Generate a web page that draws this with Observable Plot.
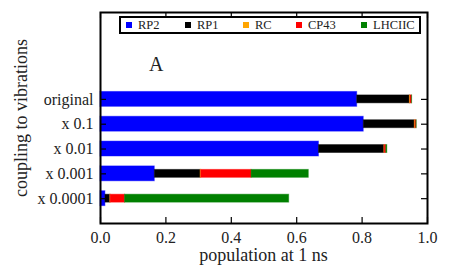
<!DOCTYPE html>
<html><head><meta charset="utf-8">
<script src="https://cdn.jsdelivr.net/npm/d3@7"></script>
<script src="https://cdn.jsdelivr.net/npm/@observablehq/plot@0.6"></script>
<style>
body{margin:0;background:#fff}
#wrap{position:relative;width:449px;height:276px;font-family:"Liberation Serif","Times New Roman",serif}
#wrap svg text{font-family:"Liberation Serif","Times New Roman",serif !important}
#legend{position:absolute;left:119px;top:16px;width:298px;height:14px;border:2px solid #000;background:#fff;font-size:12.5px;line-height:14px;color:#222}
#legend span.item{position:absolute;top:0;white-space:nowrap}
#legend span.sw{display:inline-block;width:6px;height:6px;margin-right:6px;vertical-align:1px}
#tagA{position:absolute;left:149px;top:53px;font-size:20px;color:#222}
#xlab{position:absolute;left:100px;width:327px;top:245px;text-align:center;font-size:18px;color:#222}
#ylab{position:absolute;left:21px;top:118px;font-size:18px;color:#222;white-space:nowrap;transform:translate(-50%,-50%) rotate(-90deg)}
</style>
</head><body><div id="wrap"></div>
<script>
const categories = ["original", "x 0.1", "x 0.01", "x 0.001", "x 0.0001"];
const series = ["RP2", "RP1", "RC", "CP43", "LHCIIC"];
const colors = ["#0000ff", "#000000", "#ffa500", "#ff0000", "#008000"];
const RP2    = [0.785, 0.805, 0.668, 0.166, 0.015];
const RP1    = [0.161, 0.156, 0.200, 0.140, 0.015];
const RC     = [0.002, 0.002, 0.001, 0.002, 0.001];
const CP43   = [0.004, 0.003, 0.005, 0.154, 0.044];
const LHCIIC = [0.001, 0.001, 0.003, 0.175, 0.502];
const xTicks = [0, 0.2, 0.4, 0.6, 0.8, 1.0];
const panelLabel = "A";
const xLabel = "population at 1 ns";
const yLabel = "coupling to vibrations";

const values = [RP2, RP1, RC, CP43, LHCIIC];
const rows = [];
categories.forEach((c, i) => {
  let acc = 0;
  const pos = categories.length - 1 - i;
  series.forEach((s, j) => {
    const v = values[j][i];
    const h = j === 0 ? 0.3 : 0.16;
    rows.push({cat: c, series: s, x1: acc, x2: acc + v, y1: pos - h, y2: pos + h});
    acc += v;
  });
});
const yPos = categories.map((c, i) => categories.length - 1 - i);
const ff = "Liberation Serif, Times New Roman, serif";

const chart = Plot.plot({
  width: 449, height: 276,
  marginLeft: 100, marginRight: 22, marginTop: 12, marginBottom: 53,
  style: {fontFamily: ff, fontSize: "16px", color: "#222", background: "#fff"},
  x: {domain: [0, 1]},
  y: {domain: [-1, 7.5]},
  color: {domain: series, range: colors},
  marks: [
    Plot.rect(rows, {x1: "x1", x2: "x2", y1: "y1", y2: "y2", fill: "series", stroke: "series", strokeOpacity: 0.45, strokeWidth: 1}),
    Plot.ruleX(xTicks, {x: d => d, insetTop: 205, stroke: "#000", strokeWidth: 1.2}),
    Plot.ruleX(xTicks, {x: d => d, insetBottom: 205, stroke: "#000", strokeWidth: 1.2}),
    Plot.ruleY(yPos, {y: d => d, insetRight: 321, stroke: "#000", strokeWidth: 1.2}),
    Plot.ruleY(yPos, {y: d => d, insetLeft: 321, stroke: "#000", strokeWidth: 1.2}),
    Plot.axisX(xTicks, {tickSize: 0, tickPadding: 8, tickFormat: d3.format(".1f"), label: null, fontSize: 16, fontFamily: ff}),
    Plot.axisY(yPos, {tickSize: 0, tickPadding: 7, tickFormat: d => categories[categories.length - 1 - d], label: null, fontSize: 16, fontFamily: ff}),
    Plot.frame({stroke: "#000", strokeWidth: 2})
  ]
});
const wrap = document.getElementById("wrap");
wrap.appendChild(chart);

const legend = document.createElement("div");
legend.id = "legend";
const lefts = [5, 64, 122, 175, 240];
series.forEach((s, j) => {
  const it = document.createElement("span");
  it.className = "item";
  it.style.left = lefts[j] + "px";
  it.innerHTML = `<span class="sw" style="background:${colors[j]}"></span>${s}`;
  legend.appendChild(it);
});
wrap.appendChild(legend);
const a = document.createElement("div");
a.id = "tagA"; a.textContent = panelLabel;
wrap.appendChild(a);
const xl = document.createElement("div");
xl.id = "xlab"; xl.textContent = xLabel; wrap.appendChild(xl);
const yl = document.createElement("div");
yl.id = "ylab"; yl.textContent = yLabel; wrap.appendChild(yl);
</script>
</body></html>
